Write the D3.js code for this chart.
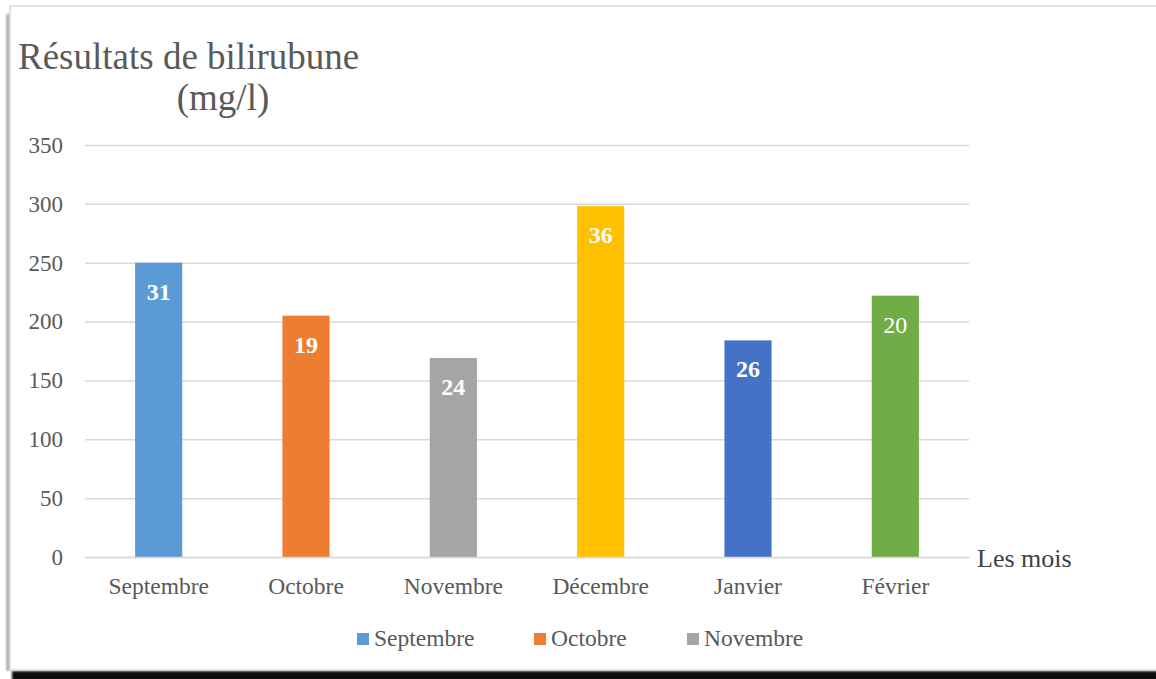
<!DOCTYPE html>
<html>
<head>
<meta charset="utf-8">
<script src="https://cdn.jsdelivr.net/npm/d3@7"></script>
<style>
    body { margin: 0; background: #fff; }
    svg { display: block; font-family: "Liberation Serif", "Times New Roman", serif; }
</style>
</head>
<body>
<div id="chart"></div>
<script>
// Data
const months = ['Septembre', 'Octobre', 'Novembre', 'Décembre', 'Janvier', 'Février'];
const values = [250, 205, 169, 298, 184, 222];
const barLabels = ['31', '19', '24', '36', '26', '20'];
const boldLabels = [true, true, true, true, true, false];
const yTicks = [0, 50, 100, 150, 200, 250, 300, 350];
const legendItems = ['Septembre', 'Octobre', 'Novembre'];

// Colors per month
const colors = ['#5B9BD5', '#ED7D31', '#A5A5A5', '#FFC000', '#4472C4', '#70AD47'];

const W = 1156, H = 679;
const margin = { top: 145, right: 187, bottom: 122, left: 85 };
const width = W - margin.left - margin.right;
const height = H - margin.top - margin.bottom;

const svg = d3.select('#chart')
    .append('svg')
    .attr('width', W)
    .attr('height', H);

// Frame with shadow
const defs = svg.append('defs');
defs.append('filter').attr('id', 'blur')
    .append('feGaussianBlur').attr('stdDeviation', 1.2);

svg.append('rect')
    .attr('x', 12).attr('y', 671).attr('width', W).attr('height', 10)
    .attr('fill', '#111').attr('filter', 'url(#blur)');
svg.append('rect')
    .attr('x', 6).attr('y', 14).attr('width', 4).attr('height', 657)
    .attr('fill', '#b0b0b0').attr('filter', 'url(#blur)');
svg.append('rect')
    .attr('x', 10).attr('y', 6).attr('width', W).attr('height', 664)
    .attr('fill', '#fff')
    .attr('stroke', '#d9d9d9')
    .attr('stroke-width', 1.5);

const g = svg.append('g')
    .attr('transform', `translate(${margin.left}, ${margin.top})`);

// Scales
const x = d3.scaleBand()
    .domain(months)
    .range([0, width])
    .paddingInner(0.68)
    .paddingOuter(0.34);

const y = d3.scaleLinear()
    .domain([0, 350])
    .range([height, 0]);

// Gridlines + y axis
const yAxis = g.append('g')
    .call(d3.axisLeft(y).tickValues(yTicks).tickSize(-width).tickPadding(22));
yAxis.select('.domain').remove();
yAxis.selectAll('.tick line').attr('stroke', '#d9d9d9').attr('stroke-width', 1.5);
yAxis.selectAll('.tick text')
    .attr('fill', '#595959')
    .style('font-size', '23px')
    .style('font-family', '"Liberation Serif", "Times New Roman", serif');

// Bars
g.selectAll('.bar')
    .data(months)
    .enter()
    .append('rect')
    .attr('class', 'bar')
    .attr('x', d => x(d))
    .attr('y', (d, i) => y(values[i]))
    .attr('width', x.bandwidth())
    .attr('height', (d, i) => height - y(values[i]))
    .attr('fill', (d, i) => colors[i]);

// Value labels inside bars
g.selectAll('.value-label')
    .data(months)
    .enter()
    .append('text')
    .attr('class', 'value-label')
    .attr('x', d => x(d) + x.bandwidth() / 2)
    .attr('y', (d, i) => y(values[i]) + 37)
    .attr('text-anchor', 'middle')
    .attr('fill', '#fff')
    .style('font-size', '24px')
    .style('font-weight', (d, i) => boldLabels[i] ? 'bold' : 'normal')
    .text((d, i) => barLabels[i]);

// x axis
const xAxis = g.append('g')
    .attr('transform', `translate(0, ${height})`)
    .call(d3.axisBottom(x).tickSize(0).tickPadding(20));
xAxis.select('.domain').attr('stroke', '#d9d9d9').attr('stroke-width', 1.5);
xAxis.selectAll('.tick text')
    .attr('fill', '#595959')
    .style('font-size', '23.5px')
    .style('font-family', '"Liberation Serif", "Times New Roman", serif');

// Axis title
svg.append('text')
    .attr('x', 977)
    .attr('y', 567)
    .attr('fill', '#404040')
    .style('font-size', '26px')
    .text('Les mois');

// Chart title
svg.append('text')
    .attr('x', 18)
    .attr('y', 69)
    .attr('fill', '#595959')
    .style('font-size', '37px')
    .text('Résultats de bilirubune');
svg.append('text')
    .attr('x', 223)
    .attr('y', 110)
    .attr('text-anchor', 'middle')
    .attr('fill', '#595959')
    .style('font-size', '37px')
    .text('(mg/l)');

// Legend
const legendX = [357, 534, 687];
const legend = svg.selectAll('.legend')
    .data(legendItems)
    .enter()
    .append('g')
    .attr('class', 'legend')
    .attr('transform', (d, i) => `translate(${legendX[i]}, 633)`);
legend.append('rect')
    .attr('width', 12).attr('height', 12)
    .attr('fill', (d, i) => colors[i]);
legend.append('text')
    .attr('x', 17)
    .attr('y', 12.5)
    .attr('fill', '#595959')
    .style('font-size', '23.5px')
    .text(d => d);
</script>
</body>
</html>
